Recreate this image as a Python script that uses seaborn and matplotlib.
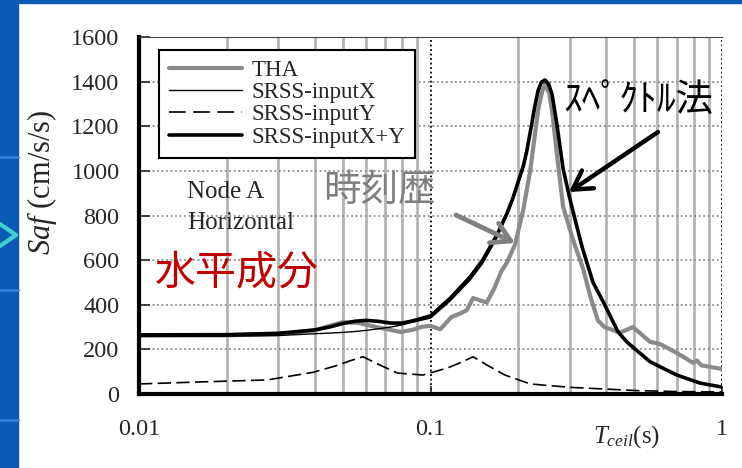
import matplotlib.pyplot as plt
import pandas as pd
import seaborn as sns
from matplotlib.lines import Line2D
from matplotlib.patches import Rectangle
from matplotlib.ticker import LogLocator, NullFormatter

# periods (s) and floor response (cm/s/s)
period_tha = [0.01, 0.02, 0.03, 0.04, 0.045, 0.05, 0.057, 0.065, 0.079, 0.087,
              0.094, 0.1, 0.108, 0.118, 0.126, 0.133, 0.14, 0.156, 0.165, 0.175,
              0.183, 0.195, 0.208, 0.22, 0.234, 0.242, 0.247, 0.255, 0.261, 0.272,
              0.285, 0.306, 0.318, 0.334, 0.353, 0.375, 0.395, 0.447, 0.495, 0.566,
              0.613, 0.70, 0.795, 0.82, 0.85, 0.89, 1.0]
saf_tha = [262, 263, 268, 285, 305, 322, 318, 300, 278, 288,
           302, 305, 290, 345, 360, 375, 430, 410, 470, 550,
           590, 670, 825, 1004, 1273, 1360, 1385, 1350, 1273, 1064,
           840, 705, 640, 560, 440, 330, 300, 275, 300, 234,
           224, 184, 140, 150, 128, 124, 112]

period_srss = [0.01, 0.02, 0.03, 0.04, 0.045, 0.05, 0.055, 0.06, 0.066, 0.073,
               0.08, 0.087, 0.1, 0.117, 0.137, 0.151, 0.169, 0.183, 0.192, 0.198,
               0.208, 0.214, 0.221, 0.228, 0.234, 0.24, 0.247, 0.254, 0.261, 0.266,
               0.272, 0.285, 0.30, 0.315, 0.331, 0.361, 0.391, 0.44, 0.472, 0.523,
               0.566, 0.613, 0.70, 0.84, 1.0]
saf_x = [258, 259, 262, 270, 273, 276, 280, 285, 292, 300,
         310, 322, 340, 418, 512, 585, 700, 800, 870, 925,
         1010, 1080, 1180, 1280, 1350, 1390, 1400, 1386, 1342, 1278,
         1198, 1009, 879, 769, 659, 499, 413, 278, 233, 183,
         145, 122, 85, 49, 31]
saf_xy = [265, 266, 272, 287, 300, 316, 326, 330, 326, 318,
          318, 328, 350, 430, 526, 600, 713, 810, 880, 935,
          1020, 1090, 1190, 1290, 1360, 1398, 1407, 1390, 1345, 1280,
          1200, 1010, 880, 770, 660, 500, 414, 278, 233, 183,
          145, 122, 85, 49, 31]

period_y = [0.01, 0.0162, 0.0275, 0.0395, 0.047, 0.053, 0.0587, 0.067, 0.077, 0.094,
            0.114, 0.128, 0.14, 0.156, 0.18, 0.22, 0.30, 0.40, 0.515, 0.70, 1.0]
saf_y = [45, 54, 63, 97, 125, 149, 167, 130, 94, 85,
         116, 143, 167, 130, 85, 45, 30, 22, 15, 11, 9]

y_ticks = [0, 200, 400, 600, 800, 1000, 1200, 1400, 1600]
x_ticks = [0.01, 0.1, 1]
x_tick_labels = ["0.01", "0.1", "1"]

sns.set_style("white")
plt.rcParams['font.family'] = ['Liberation Serif', 'DejaVu Serif']
plt.rcParams['mathtext.fontset'] = 'custom'
plt.rcParams['mathtext.rm'] = 'Liberation Serif'
plt.rcParams['mathtext.it'] = 'Liberation Serif:italic'
cjk = ['Noto Sans CJK JP', 'DejaVu Sans']

W, H = 742, 468
fig = plt.figure(figsize=(W / 100, H / 100), dpi=100)

# slide frame behind the chart
fig.patches.append(Rectangle((0, 0), 18 / W, 1, transform=fig.transFigure,
                             color='#0a5bb5', zorder=0))
fig.patches.append(Rectangle((0, 1 - 3 / H), 1, 3 / H, transform=fig.transFigure,
                             color='#0a5bb5', zorder=0))
for py in [157, 290, 420]:
    fig.lines.append(Line2D([0, 18 / W], [1 - py / H] * 2, transform=fig.transFigure,
                            color='#2f80d8', lw=2))
fig.lines.append(Line2D([0, 16 / W, 0], [1 - 224 / H, 1 - 235 / H, 1 - 246 / H],
                        transform=fig.transFigure, color='#3fd2d2', lw=3))

ax = fig.add_axes([139 / W, 1 - 394 / H, (722 - 139) / W, (394 - 37) / H])

sns.lineplot(data=pd.DataFrame({'T': period_tha, 'Saf': saf_tha}), x='T', y='Saf',
             ax=ax, color='#8a8a8a', lw=3, label='THA', estimator=None, sort=False)
sns.lineplot(data=pd.DataFrame({'T': period_srss, 'Saf': saf_x}), x='T', y='Saf',
             ax=ax, color='black', lw=1.0, label='SRSS-inputX', estimator=None, sort=False)
sns.lineplot(data=pd.DataFrame({'T': period_y, 'Saf': saf_y}), x='T', y='Saf',
             ax=ax, color='black', lw=1.2, dashes=False, label='SRSS-inputY',
             estimator=None, sort=False)
ax.lines[-1].set_dashes((8, 3.2))
sns.lineplot(data=pd.DataFrame({'T': period_srss, 'Saf': saf_xy}), x='T', y='Saf',
             ax=ax, color='black', lw=2.6, label='SRSS-inputX+Y', estimator=None, sort=False)

ax.set_xscale('log')
ax.set_xlim(0.01, 1)
ax.set_ylim(0, 1600)
ax.set_yticks(y_ticks)
ax.set_xticks(x_ticks)
ax.set_xticklabels(x_tick_labels)
ax.xaxis.set_minor_locator(LogLocator(base=10, subs=range(2, 10)))
ax.xaxis.set_minor_formatter(NullFormatter())
ax.set_xlabel("")
ax.set_ylabel("")

ax.grid(False)
ax.set_axisbelow(True)
ax.xaxis.grid(True, which='minor', color='#b4b4b4', lw=2, ls='-')
ax.xaxis.grid(True, which='major', color='black', lw=1.3, ls=(0, (1, 1.5)))
ax.yaxis.grid(True, which='major', color='#8c8c8c', lw=1.3, ls=(0, (1, 1.5)))

for side in ['left', 'bottom']:
    ax.spines[side].set_linewidth(3)
    ax.spines[side].set_color('black')
ax.spines['right'].set_visible(False)
ax.spines['top'].set_linewidth(0.8)
ax.spines['top'].set_color('#444444')

ax.tick_params(axis='y', direction='in', length=8, width=1.2, pad=14, labelsize=17.5,
               left=True, right=False)
ax.tick_params(axis='x', which='major', direction='in', length=6, width=1.2, pad=18,
               labelsize=17.5, bottom=True, top=False)
ax.tick_params(axis='x', which='minor', length=0)

leg = ax.legend(loc='upper left', bbox_to_anchor=(159 / W, 1 - 50 / H),
                bbox_transform=fig.transFigure, borderaxespad=0, fontsize=16.5,
                handlelength=3.2, handletextpad=0.42, labelspacing=0.06,
                borderpad=0.42, fancybox=False, framealpha=1)
leg.get_frame().set_edgecolor('black')
leg.get_frame().set_linewidth(1.5)
for h in leg.get_lines():
    if h.get_label() == 'SRSS-inputY':
        h.set_dashes((10, 4.5))

fig.text(42 / W, 1 - 182 / H, r'$\mathit{Saf}$ (cm/s/s)', rotation=90,
         ha='center', va='center', fontsize=22)
fig.text(627 / W, 1 - 437 / H, r'$T_{ceil}$(s)', ha='center', va='center', fontsize=18)

ax.text(0.0146, 905, 'Node A', ha='left', va='center', fontsize=18)
ax.text(0.0146, 766, 'Horizontal', ha='left', va='center', fontsize=18)
ax.text(0.0428, 914, '時刻歴', ha='left', va='center', fontsize=27,
        color='#7f7f7f', family=cjk)
ax.text(0.2847, 1313, 'ｽﾍﾟｸﾄﾙ法', ha='left', va='center', fontsize=27,
        color='black', family=cjk)
ax.text(0.01135, 542, '水平成分', ha='left', va='center', fontsize=29.5,
        color='#c00000', family=cjk)

ax.annotate('', xy=(0.195, 677), xytext=(0.1223, 802),
            arrowprops=dict(arrowstyle='->,head_length=0.6,head_width=0.35',
                            color='#808080', lw=3.5, shrinkA=0, shrinkB=0,
                            mutation_scale=22))
ax.annotate('', xy=(0.2987, 905), xytext=(0.603, 1174),
            arrowprops=dict(arrowstyle='->,head_length=0.6,head_width=0.35',
                            color='black', lw=3.2, shrinkA=0, shrinkB=0,
                            mutation_scale=22))

fig.savefig('out.png', dpi=100)
